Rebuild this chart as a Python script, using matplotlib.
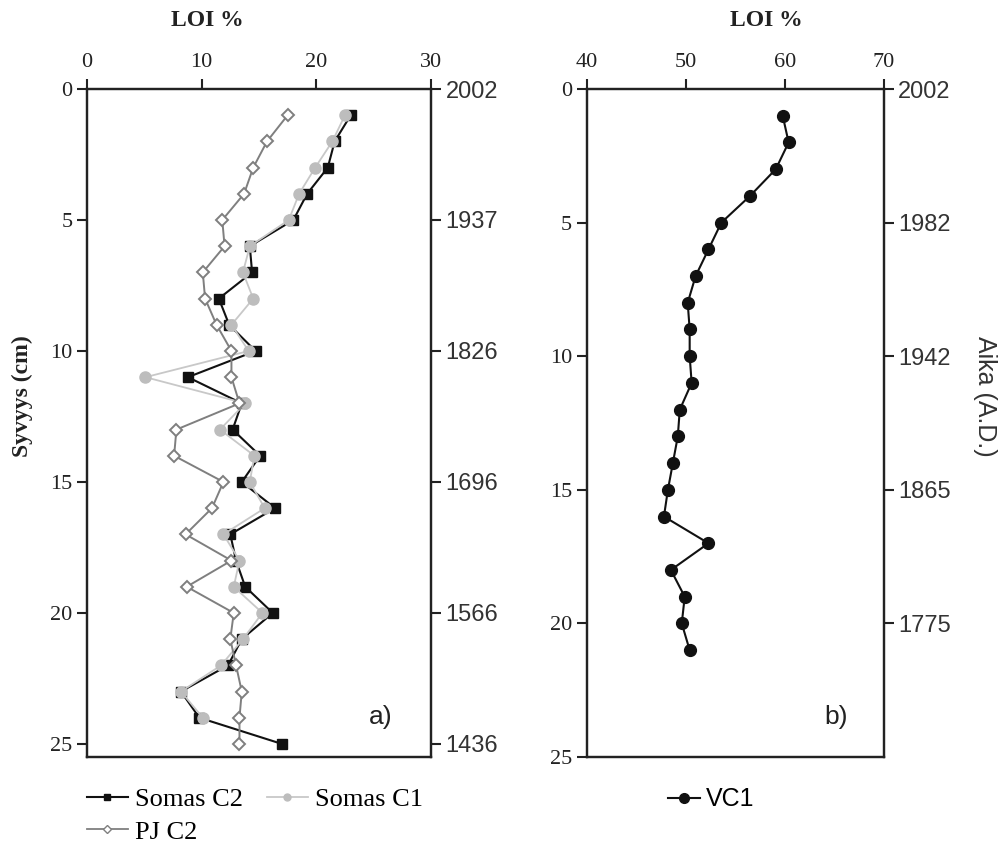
import numpy as np
import matplotlib.pyplot as plt
from matplotlib.lines import Line2D

# syvyydet (cm)
depth_a = list(range(1, 26))
depth_c1 = list(range(1, 25))
depth_b = list(range(1, 22))

# LOI % profiilit
somas_c2 = [23.0, 21.6, 21.0, 19.2, 18.0, 14.2, 14.4, 11.5, 12.4, 14.7,
            8.8, 13.5, 12.7, 15.1, 13.5, 16.4, 12.5, 13.0, 13.8, 16.2,
            13.5, 12.3, 8.2, 9.8, 17.0]
somas_c1 = [22.5, 21.4, 19.9, 18.5, 17.6, 14.2, 13.6, 14.5, 12.6, 14.1,
            5.1, 13.8, 11.6, 14.6, 14.2, 15.5, 11.9, 13.3, 12.8, 15.3,
            13.6, 11.7, 8.2, 10.1]
pj_c2 = [17.5, 15.7, 14.5, 13.7, 11.8, 12.0, 10.1, 10.3, 11.3, 12.6,
         12.6, 13.3, 7.8, 7.6, 11.9, 10.9, 8.6, 12.6, 8.7, 12.8,
         12.5, 13.0, 13.5, 13.3, 13.3]
vc1 = [59.8, 60.4, 59.1, 56.5, 53.6, 52.3, 51.0, 50.2, 50.4, 50.4,
       50.6, 49.4, 49.2, 48.7, 48.2, 47.8, 52.3, 48.5, 49.9, 49.6, 50.4]

# ikäasteikot (A.D.)
age_ticks_a = [0, 5, 10, 15, 20, 25]
age_labels_a = ['2002', '1937', '1826', '1696', '1566', '1436']
age_ticks_b = [0, 5, 10, 15, 20]
age_labels_b = ['2002', '1982', '1942', '1865', '1775']

SERIF = ['Liberation Serif', 'DejaVu Serif']
SANS = ['Liberation Sans Narrow', 'Liberation Sans', 'DejaVu Sans']

fig = plt.figure(figsize=(10.03, 8.43), dpi=100)
ax1 = fig.add_axes([0.0867, 0.102, 0.343, 0.7924])
ax2 = fig.add_axes([0.585, 0.102, 0.296, 0.7924])


def style_axis(ax, xlim, xticks, ylim, yticks, ages, age_labels):
    ax.set_xlim(*xlim)
    ax.set_ylim(*ylim)
    ax.xaxis.tick_top()
    ax.set_xticks(xticks)
    ax.set_yticks(yticks)
    ax.tick_params(direction='out', length=7, width=1.5, colors='#222222')
    ax.tick_params(axis='x', pad=5)
    for lab in ax.get_xticklabels() + ax.get_yticklabels():
        lab.set_family(SERIF)
        lab.set_fontsize(16)
        lab.set_color('#222222')
    for s in ax.spines.values():
        s.set_linewidth(1.6)
        s.set_color('#222222')
    tw = ax.twinx()
    tw.set_ylim(*ylim)
    tw.set_yticks(ages)
    tw.set_yticklabels(age_labels, family=SANS, fontsize=17, color='#333333')
    tw.tick_params(direction='out', length=7, width=1.5, colors='#222222',
                   labelcolor='#333333')
    for s in tw.spines.values():
        s.set_linewidth(1.6)
        s.set_color('#222222')
    return tw


# a) Somas ja PJ
ax1.plot(somas_c1, depth_c1, color='#c8c8c8', lw=1.3, marker='o', ms=8,
         mfc='#bdbdbd', mec='#bdbdbd', zorder=2)
ax1.plot(pj_c2, depth_a, color='#7f7f7f', lw=1.4, marker='D', ms=6.5,
         mfc='white', mec='#7f7f7f', mew=1.4, zorder=3)
ax1.plot(somas_c2, depth_a, color='#111111', lw=1.5, marker='s', ms=6.5,
         mfc='#111111', mec='#111111', zorder=1.5)
style_axis(ax1, (0, 30), [0, 10, 20, 30], (25.5, 0), [0, 5, 10, 15, 20, 25],
           age_ticks_a, age_labels_a)
ax1.text(0.82, 0.05, 'a)', transform=ax1.transAxes, family=SANS,
         fontsize=19, color='#222222')

# b) VC1
ax2.plot(vc1, depth_b, color='#111111', lw=1.5, marker='o', ms=8.5,
         mfc='#111111', mec='#111111')
style_axis(ax2, (40, 70), [40, 50, 60, 70], (25, 0), [0, 5, 10, 15, 20, 25],
           age_ticks_b, age_labels_b)
ax2.text(0.8, 0.05, 'b)', transform=ax2.transAxes, family=SANS,
         fontsize=19, color='#222222')

# otsikot
fig.text(0.207, 0.988, 'LOI %', ha='center', va='top', family=SERIF,
         fontsize=17, fontweight='bold', color='#222222')
fig.text(0.764, 0.988, 'LOI %', ha='center', va='top', family=SERIF,
         fontsize=17, fontweight='bold', color='#222222')
fig.text(0.022, 0.53, 'Syvyys (cm)', rotation=90, ha='center', va='center',
         family=SERIF, fontsize=17, fontweight='bold', color='#222222')
fig.text(0.982, 0.53, 'Aika (A.D.)', rotation=270, ha='center', va='center',
         family=SANS, fontsize=18, color='#333333')

# selitteet
h_c2 = Line2D([], [], color='#111111', lw=1.5, marker='s', ms=5,
              mfc='#111111', mec='#111111')
h_c1 = Line2D([], [], color='#c8c8c8', lw=1.3, marker='o', ms=5,
              mfc='#bdbdbd', mec='#bdbdbd')
h_pj = Line2D([], [], color='#7f7f7f', lw=1.3, marker='D', ms=4,
              mfc='white', mec='#7f7f7f')
fig.legend([h_c2, h_pj, h_c1], ['Somas C2', 'PJ C2', 'Somas C1'], ncol=2,
           loc='upper left', bbox_to_anchor=(0.0867, 0.066), frameon=False,
           prop={'family': SERIF, 'size': 19}, handlelength=1.55,
           handletextpad=0.27, columnspacing=0.9, labelspacing=0.35,
           borderaxespad=0, borderpad=0)
h_vc = Line2D([], [], color='#111111', lw=1.5, marker='o', ms=7,
              mfc='#111111', mec='#111111')
fig.legend([h_vc], ['VC1'], loc='upper left', bbox_to_anchor=(0.666, 0.066),
           frameon=False, prop={'family': SANS, 'size': 18},
           handlelength=1.3, handletextpad=0.2, borderaxespad=0, borderpad=0)

fig.savefig('out.png', dpi=100)
